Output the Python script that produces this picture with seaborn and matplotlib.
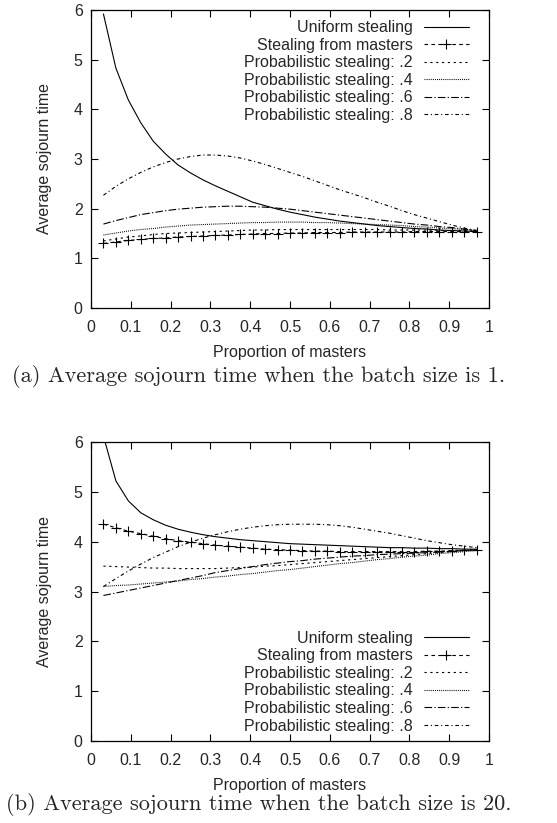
import matplotlib
matplotlib.use("Agg")
import matplotlib.pyplot as plt
import seaborn as sns
import pandas as pd

# ---------------- data ----------------
proportion = [0.03125, 0.0625, 0.09375, 0.125, 0.15625, 0.1875, 0.21875, 0.25,
              0.28125, 0.3125, 0.34375, 0.375, 0.40625, 0.4375, 0.46875, 0.5,
              0.53125, 0.5625, 0.59375, 0.625, 0.65625, 0.6875, 0.71875, 0.75,
              0.78125, 0.8125, 0.84375, 0.875, 0.90625, 0.9375, 0.96875]

series_labels = ["Uniform stealing", "Stealing from masters",
                 "Probabilistic stealing: .2", "Probabilistic stealing: .4",
                 "Probabilistic stealing: .6", "Probabilistic stealing: .8"]

# (a) batch size 1
a_uniform = [5.92, 4.83, 4.19, 3.73, 3.36, 3.10, 2.88, 2.72, 2.58, 2.46, 2.35,
             2.24, 2.13, 2.06, 1.99, 1.93, 1.88, 1.83, 1.79, 1.75, 1.72, 1.69,
             1.66, 1.64, 1.62, 1.60, 1.59, 1.57, 1.56, 1.55, 1.54]
a_masters = [1.30, 1.33, 1.36, 1.38, 1.40, 1.41, 1.43, 1.44, 1.45, 1.46, 1.47,
             1.48, 1.49, 1.50, 1.50, 1.51, 1.51, 1.52, 1.52, 1.52, 1.53, 1.53,
             1.53, 1.53, 1.53, 1.54, 1.54, 1.54, 1.54, 1.54, 1.54]
a_prob2 = [1.35, 1.39, 1.43, 1.45, 1.48, 1.50, 1.51, 1.52, 1.53, 1.54, 1.55,
           1.56, 1.57, 1.57, 1.58, 1.58, 1.58, 1.58, 1.58, 1.58, 1.58, 1.58,
           1.58, 1.57, 1.57, 1.57, 1.57, 1.56, 1.56, 1.56, 1.55]
a_prob4 = [1.47, 1.51, 1.55, 1.58, 1.60, 1.63, 1.65, 1.67, 1.68, 1.69, 1.70,
           1.71, 1.72, 1.72, 1.73, 1.73, 1.73, 1.72, 1.72, 1.71, 1.70, 1.69,
           1.68, 1.67, 1.66, 1.64, 1.63, 1.61, 1.60, 1.58, 1.56]
a_prob6 = [1.69, 1.76, 1.82, 1.88, 1.92, 1.96, 1.99, 2.01, 2.03, 2.04, 2.05,
           2.05, 2.04, 2.03, 2.01, 1.99, 1.96, 1.93, 1.90, 1.87, 1.84, 1.81,
           1.78, 1.75, 1.72, 1.69, 1.67, 1.64, 1.62, 1.59, 1.56]
a_prob8 = [2.27, 2.45, 2.60, 2.73, 2.84, 2.93, 3.00, 3.05, 3.08, 3.08, 3.06,
           3.02, 2.96, 2.89, 2.81, 2.73, 2.65, 2.56, 2.47, 2.38, 2.30, 2.22,
           2.13, 2.05, 1.96, 1.88, 1.81, 1.74, 1.67, 1.61, 1.56]

# (b) batch size 20
b_uniform = [6.12, 5.22, 4.82, 4.58, 4.44, 4.33, 4.25, 4.19, 4.14, 4.10, 4.07,
             4.04, 4.02, 4.00, 3.98, 3.96, 3.95, 3.94, 3.93, 3.92, 3.91, 3.90,
             3.89, 3.88, 3.88, 3.87, 3.87, 3.86, 3.86, 3.85, 3.85]
b_masters = [4.35, 4.28, 4.21, 4.16, 4.11, 4.06, 4.02, 3.99, 3.96, 3.93, 3.91,
             3.89, 3.87, 3.85, 3.84, 3.83, 3.82, 3.81, 3.81, 3.80, 3.80, 3.80,
             3.80, 3.80, 3.80, 3.80, 3.81, 3.81, 3.82, 3.83, 3.83]
b_prob2 = [3.51, 3.50, 3.49, 3.48, 3.47, 3.47, 3.46, 3.46, 3.46, 3.46, 3.47,
           3.48, 3.49, 3.51, 3.52, 3.54, 3.56, 3.58, 3.60, 3.62, 3.64, 3.66,
           3.68, 3.70, 3.72, 3.74, 3.76, 3.78, 3.80, 3.82, 3.84]
b_prob4 = [3.10, 3.12, 3.13, 3.15, 3.17, 3.19, 3.21, 3.24, 3.26, 3.29, 3.31,
           3.34, 3.36, 3.39, 3.42, 3.44, 3.47, 3.50, 3.53, 3.56, 3.58, 3.61,
           3.64, 3.66, 3.69, 3.71, 3.73, 3.76, 3.78, 3.80, 3.82]
b_prob6 = [2.92, 2.97, 3.02, 3.07, 3.12, 3.17, 3.22, 3.27, 3.32, 3.38, 3.42,
           3.46, 3.50, 3.54, 3.57, 3.60, 3.62, 3.65, 3.67, 3.69, 3.71, 3.72,
           3.74, 3.75, 3.76, 3.77, 3.78, 3.79, 3.81, 3.82, 3.84]
b_prob8 = [3.10, 3.26, 3.41, 3.55, 3.68, 3.79, 3.90, 3.99, 4.07, 4.14, 4.20,
           4.25, 4.29, 4.32, 4.34, 4.35, 4.35, 4.35, 4.34, 4.32, 4.29, 4.25,
           4.21, 4.17, 4.12, 4.07, 4.02, 3.98, 3.94, 3.91, 3.88]

x_ticks = [0, 0.1, 0.2, 0.3, 0.4, 0.5, 0.6, 0.7, 0.8, 0.9, 1]
x_tick_labels = ["0", "0.1", "0.2", "0.3", "0.4", "0.5", "0.6", "0.7", "0.8", "0.9", "1"]
y_ticks = [0, 1, 2, 3, 4, 5, 6]
y_tick_labels = ["0", "1", "2", "3", "4", "5", "6"]

x_label = "Proportion of masters"
y_label = "Average sojourn time"
caption_a = "(a) Average sojourn time when the batch size is 1."
caption_b = "(b) Average sojourn time when the batch size is 20."

# ---------------- style ----------------
sns.set_style("ticks")
plt.rcParams["font.family"] = ["Liberation Sans", "DejaVu Sans"]
plt.rcParams["lines.scale_dashes"] = False
FS = 11.5

line_styles = [
    dict(linestyle="-"),
    dict(linestyle=(0, (2.6, 2.4)), marker="+", markersize=6.5,
         markeredgewidth=0.8, markeredgecolor="black"),
    dict(linestyle=(0, (1.6, 2.6))),
    dict(linestyle=(0, (0.7, 0.8))),
    dict(linestyle=(0, (5.5, 1.6, 0.9, 1.6))),
    dict(linestyle=(0, (2.6, 2.0, 0.8, 2.0))),
]

W, H = 557, 823
fig = plt.figure(figsize=(W / 100, H / 100), dpi=100)

def px_axes(left, top, right, bottom):
    return fig.add_axes([left / W, 1 - bottom / H, (right - left) / W, (bottom - top) / H])

ax_a = px_axes(91, 10, 489, 308)
ax_b = px_axes(91, 442, 489, 741)

panels = [
    (ax_a, [a_uniform, a_masters, a_prob2, a_prob4, a_prob6, a_prob8], "upper right", (0.95, 0.966)),
    (ax_b, [b_uniform, b_masters, b_prob2, b_prob4, b_prob6, b_prob8], "lower right", (0.95, 0.025)),
]

for ax, values, loc, anchor in panels:
    for label, vals, st in zip(series_labels, values, line_styles):
        df = pd.DataFrame({"x": proportion, "y": vals})
        sns.lineplot(data=df, x="x", y="y", ax=ax, color="black", linewidth=0.8,
                     label=label, estimator=None, sort=False, errorbar=None, **st)
    ax.set_xlim(0, 1)
    ax.set_ylim(0, 6)
    ax.set_xticks(x_ticks)
    ax.set_xticklabels(x_tick_labels)
    ax.set_yticks(y_ticks)
    ax.set_yticklabels(y_tick_labels)
    ax.tick_params(axis="both", which="major", direction="in", length=5, width=0.8,
                   top=True, right=True, labelsize=FS, color="black")
    ax.tick_params(axis="x", pad=8.5)
    ax.tick_params(axis="y", pad=6.0)
    for sp in ax.spines.values():
        sp.set_visible(True)
        sp.set_linewidth(0.9)
        sp.set_color("black")
    ax.set_xlabel(x_label, fontsize=FS)
    ax.set_ylabel(y_label, fontsize=FS)
    ax.xaxis.set_label_coords(0.5, -44.5 / 298)
    ax.xaxis.label.set_verticalalignment("center")
    ax.yaxis.set_label_coords(-46 / 398, 0.5)
    ax.yaxis.label.set_verticalalignment("center")
    leg = ax.legend(loc=loc, bbox_to_anchor=anchor, frameon=False, markerfirst=False,
                    fontsize=FS, handlelength=2.85, handletextpad=0.7,
                    labelspacing=0.16, borderpad=0, borderaxespad=0, numpoints=1)

fig.text(259 / W, 1 - 376 / H, caption_a, family="cmr10", fontsize=16.1,
         ha="center", va="center")
fig.text(259 / W, 1 - 804 / H, caption_b, family="cmr10", fontsize=16.1,
         ha="center", va="center")

fig.savefig("out.png", dpi=100)
